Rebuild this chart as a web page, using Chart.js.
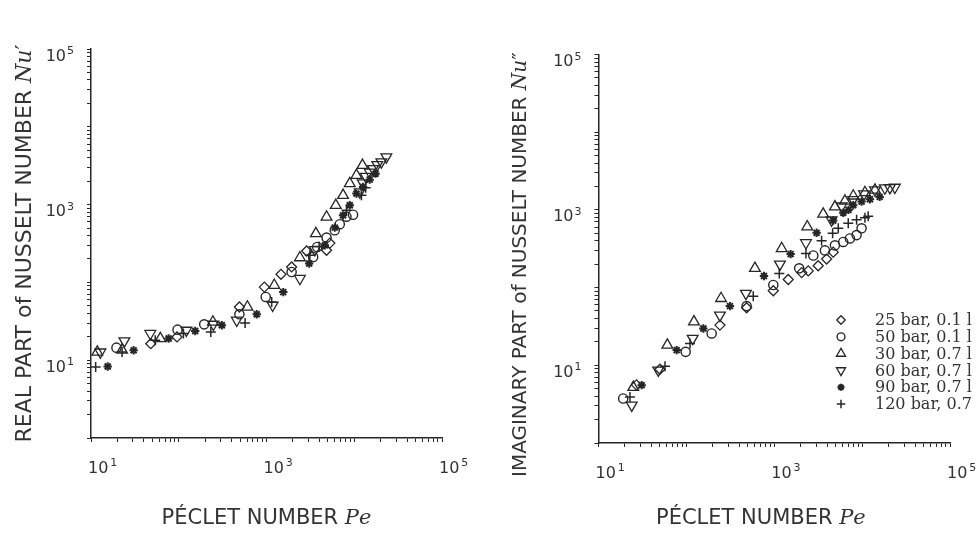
<!DOCTYPE html>
<html>
<head>
<meta charset="utf-8">
<script src="https://cdn.jsdelivr.net/npm/chart.js@4"></script>
<style>
  html, body { margin: 0; padding: 0; background: #fff; overflow: hidden; }
  #wrap { position: relative; width: 976px; height: 534px; }
  canvas { position: absolute; top: 0; }
</style>
</head>
<body>
<div id="wrap">
  <canvas id="realChart" width="488" height="534" style="left:0"></canvas>
  <canvas id="imagChart" width="488" height="534" style="left:488px"></canvas>
</div>
<script>
// series labels (legend, right panel)
const seriesLabels = ['25 bar, 0.1 l', '50 bar, 0.1 l', '30 bar, 0.7 l', '60 bar, 0.7 l', '90 bar, 0.7 l', '120 bar, 0.7 l'];

// decades that carry a tick label
const xLabelValues = [10, 1000, 100000];
const yLabelValues = [10, 1000, 100000];

// REAL PART Nu' vs Pe
const realPe25 = [48, 95.5, 491, 945, 1462, 1933, 2866, 4834, 5270];
const realNu25 = [16.3, 19.9, 48.3, 87, 127, 158, 253, 259, 320];
const realPe50 = [19.5, 96.9, 195, 491, 980, 1933, 3401, 3779, 4834, 5998, 6840, 8151, 9688];
const realNu50 = [14.5, 24.7, 28.9, 38.9, 65, 136, 212, 285, 377, 468, 560, 700, 740];
const realPe30 = [11.8, 22.6, 61.7, 245, 606, 1227, 2402, 3653, 4834, 6161, 7459, 8892, 10590, 12400];
const realNu30 = [12.7, 13.5, 19, 31, 48.3, 92, 208, 424, 693, 980, 1318, 1862, 2383, 3200];
const realPe60 = [12.8, 24, 47.4, 122, 248, 458, 1175, 2402, 3556, 11560, 12500, 13500, 15000, 16360, 18300, 20370, 23230];
const realNu60 = [12.7, 17.7, 22, 24.2, 28.9, 32.6, 50.8, 112, 263, 1452, 1900, 2300, 2600, 2900, 3250, 3530, 4100];
const realPe90 = [15.5, 30.6, 76.6, 154, 310, 774, 1553, 3064, 4622, 5998, 7459, 8892, 10590, 12590, 15000, 17500];
const realNu90 = [8.3, 13.4, 19, 23.7, 28.1, 38.9, 75, 175, 300, 506, 728, 980, 1385, 1683, 2094, 2500];
const realPe120 = [11.3, 22.6, 54, 113, 232, 570, 1146, 3119, 3980, 8151, 12070, 13500];
const realNu120 = [8.2, 12.7, 18, 22, 23, 30, 56, 223, 290, 845, 1318, 1650];

// IMAGINARY PART Nu'' vs Pe
const imagPe25 = [27, 50, 241, 485, 975, 1443, 2051, 2436, 3163, 3945, 4690];
const imagNu25 = [5.6, 8.9, 32.9, 55, 91, 127, 156, 164, 191, 233, 286];
const imagPe50 = [19.1, 98.2, 194, 485, 975, 1923, 2782, 3776, 4906, 6099, 7260, 8650, 9862];
const imagNu50 = [3.74, 14.9, 25.7, 57.8, 108, 177, 259, 301, 350, 387, 429, 474, 580];
const imagPe30 = [24.9, 60.7, 122, 248, 603, 1215, 2374, 3608, 4906, 6370, 7925, 10770, 14000];
const imagNu30 = [5.2, 18.2, 36.3, 72.6, 177, 319, 607, 884, 1097, 1300, 1514, 1675, 1800];
const imagPe60 = [23.9, 47.9, 118, 241, 476, 1161, 2295, 4498, 5848, 7900, 10500, 14000, 18150, 20700, 23600];
const imagNu60 = [3.07, 8.65, 22.2, 44.2, 84, 200, 377, 739, 1120, 1350, 1600, 1800, 1910, 1930, 1950];
const imagPe90 = [31, 77.6, 156, 313, 764, 1537, 3035, 4690, 6099, 7000, 7925, 9862, 12270, 15850];
const imagNu90 = [5.55, 15.7, 29.8, 57.8, 141, 270, 507, 730, 918, 1000, 1150, 1280, 1370, 1470];
const imagPe120 = [22.8, 57.1, 110, 577, 1141, 2295, 3458, 4616, 5350, 6950, 8650, 10770, 11720];
const imagNu120 = [3.9, 9.75, 19.1, 77.6, 152, 275, 400, 499, 580, 675, 747, 790, 830];

const ink = '#262626';
const markers = [
  { pointStyle: 'rectRot', rotation: 0, radius: 5, width: 1.3 },
  { pointStyle: 'circle', rotation: 0, radius: 4.6, width: 1.4 },
  { pointStyle: 'triangle', rotation: 0, radius: 6.2, width: 1.3 },
  { pointStyle: 'triangle', rotation: 180, radius: 6.2, width: 1.3 },
  { pointStyle: 'star', rotation: 0, radius: 4.2, width: 2 },
  { pointStyle: 'cross', rotation: 0, radius: 5, width: 1.5 }
];

function toPoints(pe, nu) {
  return pe.map((p, i) => ({ x: p, y: nu[i] }));
}

function makeDatasets(groups) {
  return groups.map((g, i) => ({
    label: seriesLabels[i],
    data: toPoints(g[0], g[1]),
    pointStyle: markers[i].pointStyle,
    pointRotation: markers[i].rotation,
    pointRadius: markers[i].radius,
    pointBorderWidth: markers[i].width,
    borderColor: ink,
    backgroundColor: 'rgba(0,0,0,0)',
    showLine: false
  }));
}

// 1..9 x 10^k tick marks
function logTicks(min, max) {
  const out = [];
  for (let e = Math.round(Math.log10(min)); e < Math.round(Math.log10(max)); e++) {
    for (let m = 1; m < 10; m++) out.push({ value: m * Math.pow(10, e) });
  }
  out.push({ value: max });
  return out;
}

// "10" with a raised exponent, placed from the scales
const powerLabels = {
  id: 'powerLabels',
  afterDraw(chart) {
    const { ctx, scales: { x, y } } = chart;
    ctx.save();
    ctx.fillStyle = '#333';
    ctx.textBaseline = 'alphabetic';
    xLabelValues.forEach(v => {
      const px = x.getPixelForValue(v);
      const exp = String(Math.round(Math.log10(v)));
      ctx.textAlign = 'left';
      ctx.font = '16px "DejaVu Sans"';
      ctx.fillText('10', px - 3, x.top + 35);
      const w = ctx.measureText('10').width;
      ctx.font = '11px "DejaVu Sans"';
      ctx.fillText(exp, px - 3 + w + 2, x.top + 28);
    });
    yLabelValues.forEach(v => {
      const py = y.getPixelForValue(v);
      const exp = String(Math.round(Math.log10(v)));
      ctx.textAlign = 'right';
      ctx.font = '11px "DejaVu Sans"';
      const ew = ctx.measureText(exp).width;
      ctx.fillText(exp, y.right - 17, py + 5);
      ctx.font = '16px "DejaVu Sans"';
      ctx.fillText('10', y.right - 17 - ew - 1, py + 11.5);
    });
    ctx.restore();
  }
};

function makeOptions(o) {
  return {
    responsive: false,
    animation: false,
    layout: { padding: { top: o.top, right: o.right, bottom: 0, left: 0 } },
    plugins: { legend: { display: false }, tooltip: { enabled: false } },
    scales: {
      x: {
        type: 'logarithmic',
        min: 10, max: 100000,
        afterBuildTicks: s => { s.ticks = logTicks(10, 100000); },
        afterFit: s => { s.height = o.xHeight; s.paddingLeft = 0; s.paddingRight = 0; },
        border: { display: true, color: ink, width: 1.5 },
        grid: { display: true, drawOnChartArea: false, drawTicks: true, tickLength: 4, tickColor: ink },
        ticks: { display: false, autoSkip: false },
        title: {
          display: true, text: o.xTitle, color: '#333',
          font: { family: 'DejaVu Sans, DejaVu Serif', size: 21 },
          padding: { top: 0, bottom: 2.5 }
        }
      },
      y: {
        type: 'logarithmic',
        min: 1, max: 100000,
        afterBuildTicks: s => { s.ticks = logTicks(1, 100000); },
        afterFit: s => { s.width = o.yWidth; s.paddingTop = 0; s.paddingBottom = 0; },
        border: { display: true, color: ink, width: 1.5 },
        grid: { display: true, drawOnChartArea: false, drawTicks: true, tickLength: 4, tickColor: ink },
        ticks: { display: false, autoSkip: false },
        title: {
          display: true, text: o.yTitle, color: '#333',
          font: { family: 'DejaVu Sans, DejaVu Serif', size: o.yTitleSize },
          padding: { top: o.yTitlePad, bottom: 0 }
        }
      }
    }
  };
}

// legend drawn at a fixed spot inside the right panel
const legendPlugin = {
  id: 'sideLegend',
  afterDraw(chart) {
    const ctx = chart.ctx;
    ctx.save();
    ctx.font = '16px "DejaVu Serif"';
    ctx.textBaseline = 'middle';
    chart.data.datasets.forEach((ds, i) => {
      const y = 320 + i * 16.8;
      ctx.strokeStyle = ink;
      ctx.fillStyle = 'rgba(0,0,0,0)';
      ctx.lineWidth = markers[i].width;
      Chart.helpers.drawPoint(ctx, {
        pointStyle: markers[i].pointStyle,
        rotation: markers[i].rotation,
        radius: markers[i].radius * 0.85,
        borderWidth: markers[i].width
      }, 353, y);
      ctx.fillStyle = '#333';
      ctx.textAlign = 'left';
      ctx.fillText(ds.label, 387, y + 1);
    });
    ctx.restore();
  }
};

const nbsp = n => '\u00a0'.repeat(n);

new Chart(document.getElementById('realChart'), {
  type: 'scatter',
  data: {
    datasets: makeDatasets([
      [realPe25, realNu25], [realPe50, realNu50], [realPe30, realNu30],
      [realPe60, realNu60], [realPe90, realNu90], [realPe120, realNu120]
    ])
  },
  options: makeOptions({
    top: 49, right: 46, xHeight: 96, yWidth: 91, yTitlePad: 12.3, yTitleSize: 22,
    xTitle: 'P\u00c9CLET NUMBER \ud835\udc43\ud835\udc52',
    yTitle: 'REAL PART of NUSSELT NUMBER \ud835\udc41\ud835\udc62\u2032'
  }),
  plugins: [powerLabels]
});

new Chart(document.getElementById('imagChart'), {
  type: 'scatter',
  data: {
    datasets: makeDatasets([
      [imagPe25, imagNu25], [imagPe50, imagNu50], [imagPe30, imagNu30],
      [imagPe60, imagNu60], [imagPe90, imagNu90], [imagPe120, imagNu120]
    ])
  },
  options: makeOptions({
    top: 54.5, right: 26, xHeight: 91, yWidth: 110.5, yTitlePad: 20.6, yTitleSize: 20,
    xTitle: 'P\u00c9CLET NUMBER \ud835\udc43\ud835\udc52' + nbsp(4),
    yTitle: 'IMAGINARY PART of NUSSELT NUMBER \ud835\udc41\ud835\udc62\u2033' + nbsp(5)
  }),
  plugins: [powerLabels, legendPlugin]
});
</script>
</body>
</html>
